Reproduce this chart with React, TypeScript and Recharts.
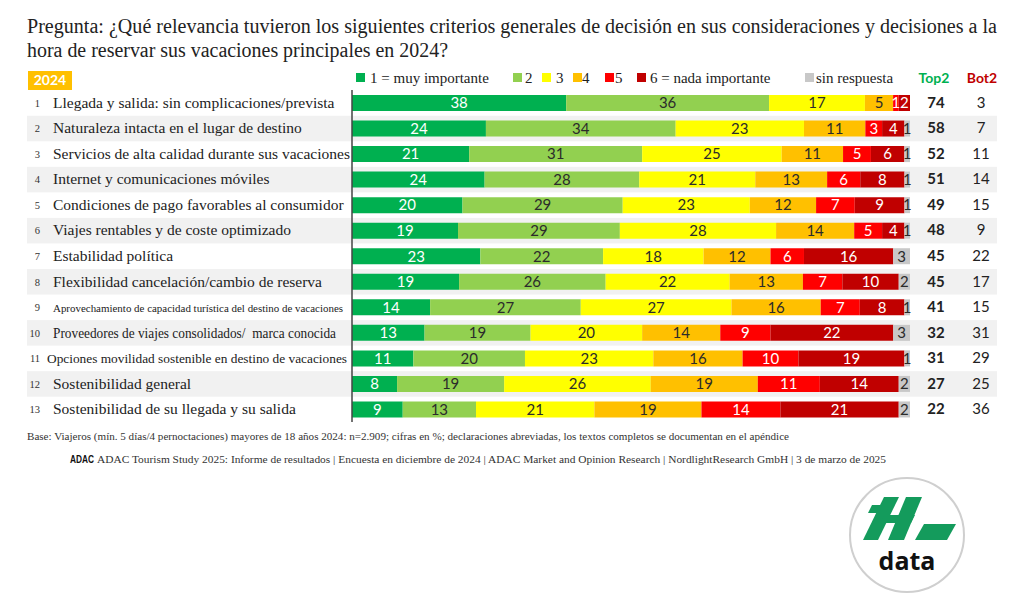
import React from 'react'
import { BarChart, Bar, XAxis, YAxis, LabelList } from 'recharts'

// rows, top to bottom
const rowLabels = [
  'Llegada y salida: sin complicaciones/prevista',
  'Naturaleza intacta en el lugar de destino',
  'Servicios de alta calidad durante sus vacaciones',
  'Internet y comunicaciones móviles',
  'Condiciones de pago favorables al consumidor',
  'Viajes rentables y de coste optimizado',
  'Estabilidad política',
  'Flexibilidad cancelación/cambio de reserva',
  'Aprovechamiento de capacidad turística del destino de vacaciones',
  'Proveedores de viajes consolidados/  marca conocida',
  'Opciones movilidad sostenible en destino de vacaciones',
  'Sostenibilidad general',
  'Sostenibilidad de su llegada y su salida',
]

const muyImportante = [38, 24, 21, 24, 20, 19, 23, 19, 14, 13, 11, 8, 9]
const dos = [36, 34, 31, 28, 29, 29, 22, 26, 27, 19, 20, 19, 13]
const tres = [17, 23, 25, 21, 23, 28, 18, 22, 27, 20, 23, 26, 21]
const cuatro = [5, 11, 11, 13, 12, 14, 12, 13, 16, 14, 16, 19, 19]
const cinco = [1, 3, 5, 6, 7, 5, 6, 7, 7, 9, 10, 11, 14]
const nadaImportante = [2, 4, 6, 8, 9, 4, 16, 10, 8, 22, 19, 14, 21]
const sinRespuesta = [0, 1, 1, 1, 1, 1, 3, 2, 1, 3, 1, 2, 2]
const top2 = [74, 58, 52, 51, 49, 48, 45, 45, 41, 32, 31, 27, 22]
const bot2 = [3, 7, 11, 14, 15, 9, 22, 17, 15, 31, 29, 25, 36]

const series = [
  { key: 's1', name: '1 = muy importante', values: muyImportante, color: '#00b050', text: '#ffffff' },
  { key: 's2', name: '2', values: dos, color: '#92d050', text: '#2b2b2b' },
  { key: 's3', name: '3', values: tres, color: '#ffff00', text: '#2b2b2b' },
  { key: 's4', name: '4', values: cuatro, color: '#ffc000', text: '#2b2b2b' },
  { key: 's5', name: '5', values: cinco, color: '#ff0000', text: '#ffffff' },
  { key: 's6', name: '6 = nada importante', values: nadaImportante, color: '#c00000', text: '#ffffff' },
  { key: 's7', name: 'sin respuesta', values: sinRespuesta, color: '#c8c8c8', text: '#2b2b2b' },
]

const data = rowLabels.map((label, i) => {
  const row: Record<string, string | number> = { label, idx: i }
  series.forEach((s) => { row[s.key] = s.values[i] })
  return row
})

// layout
const W = 1024
const CHART_H = 440
const M_TOP = 90
const M_BOTTOM = 18
const PLOT_LEFT = 352
const PLOT_RIGHT = 910
const BAR = 16
const BAND = (CHART_H - M_TOP - M_BOTTOM) / rowLabels.length
const SERIF = '"Liberation Serif", "DejaVu Serif", serif'
const SANS = 'Lato, "Open Sans", sans-serif'

const legendSquareX = [356, 513, 542, 573, 605, 637, 805]
const legendTextX = [370, 525, 556, 582, 615, 650, 816]

// a few labels were squeezed in the original slide
const labelTweaks: Record<number, { size?: number; len?: number; x?: number }> = {
  7: { size: 14.5, len: 269 },
  8: { size: 11, len: 290 },
  9: { size: 14, len: 283 },
  10: { x: 47, size: 13.5, len: 300 },
}

function Stripe(props: any) {
  const { y, height, index } = props
  if (index % 2 === 0) return <g key={`bg-${index}`} />
  const pad = (BAND - height) / 2
  return <rect key={`bg-${index}`} x={27} y={y - pad} width={970} height={BAND} fill="#f1f1f1" />
}

function LeftTick(props: any) {
  const { y, payload } = props
  const i = payload.index as number
  const t = labelTweaks[i] || {}
  return (
    <g>
      <text x={40} y={y} dy={4} textAnchor="end" fontFamily={SERIF} fontSize={10.5} fill="#333">{i + 1}</text>
      <text
        x={t.x ?? 53}
        y={y}
        dy={5}
        fontFamily={SERIF}
        fontSize={t.size ?? 15.5}
        fill="#222"
        style={{ whiteSpace: 'pre' }}
        {...(t.len ? { textLength: t.len, lengthAdjust: 'spacingAndGlyphs' } : {})}
      >
        {rowLabels[i]}
      </text>
    </g>
  )
}

function RightTick(props: any) {
  const { y, payload } = props
  const i = payload.index as number
  return (
    <g fontFamily={SANS} fontSize={15} fill="#222">
      <text x={936} y={y} dy={5} textAnchor="middle" fontWeight={700}>{top2[i]}</text>
      <text x={981} y={y} dy={5} textAnchor="middle">{bot2[i]}</text>
    </g>
  )
}

function Logo() {
  const g = '#149b5c'
  return (
    <g>
      <circle cx={907} cy={535} r={57} fill="#fff" stroke="#cfcfcf" strokeWidth={2} />
      <polygon points="884,497 899,497 878,540 863,540" fill={g} />
      <polygon points="872,505 890,505 886,513 868,513" fill={g} />
      <polygon points="884,515 915,515 911,523 880,523" fill={g} />
      <polygon points="906,497 922,497 904,540 888,540" fill={g} />
      <polygon points="924,524 956,524 947,540 915,540" fill={g} />
      <text x={907} y={570} textAnchor="middle" fontFamily='"Open Sans", sans-serif' fontWeight={700} fontSize={25} fill="#111">data</text>
    </g>
  )
}

function Decor() {
  return (
    <svg width={W} height={608} style={{ position: 'absolute', left: 0, top: 0 }}>
      <g fontFamily={SERIF} fill="#222" fontSize={20}>
        <text x={27} y={33} textLength={970} lengthAdjust="spacingAndGlyphs">
          Pregunta: ¿Qué relevancia tuvieron los siguientes criterios generales de decisión en sus consideraciones y decisiones a la
        </text>
        <text x={27} y={57} textLength={421} lengthAdjust="spacingAndGlyphs">
          hora de reservar sus vacaciones principales en 2024?
        </text>
      </g>

      <rect x={28} y={71} width={44} height={19} fill="#ffc000" />
      <text x={50} y={85} textAnchor="middle" fontFamily={SANS} fontWeight={700} fontSize={14} fill="#fff">2024</text>

      {series.map((s, i) => (
        <g key={s.key}>
          <rect x={legendSquareX[i]} y={73} width={9} height={9} fill={s.color} />
          <text x={legendTextX[i]} y={83} fontFamily={SERIF} fontSize={15} fill="#222">{s.name}</text>
        </g>
      ))}
      <text x={934} y={83} textAnchor="middle" fontFamily={SANS} fontWeight={700} fontSize={14} fill="#00b050">Top2</text>
      <text x={982} y={83} textAnchor="middle" fontFamily={SANS} fontWeight={700} fontSize={14} fill="#c00000">Bot2</text>

      <text x={27} y={440} fontFamily={SERIF} fontSize={10} fill="#333" textLength={762} lengthAdjust="spacingAndGlyphs">
        Base: Viajeros (mín. 5 días/4 pernoctaciones) mayores de 18 años 2024: n=2.909; cifras en %; declaraciones abreviadas, los textos completos se documentan en el apéndice
      </text>
      <text x={70} y={463} fontFamily='"Liberation Sans Narrow", "Liberation Sans", sans-serif' fontWeight={700} fontSize={10.5} fill="#111" textLength={24} lengthAdjust="spacingAndGlyphs">ADAC</text>
      <text x={97} y={463} fontFamily={SERIF} fontSize={10.5} fill="#333" textLength={789} lengthAdjust="spacingAndGlyphs">
        ADAC Tourism Study 2025: Informe de resultados | Encuesta en diciembre de 2024 | ADAC Market and Opinion Research | NordlightResearch GmbH | 3 de marzo de 2025
      </text>

      <Logo />
    </svg>
  )
}

export default function App() {
  return (
    <div style={{ position: 'absolute', left: 0, top: 0, width: W, height: 608, background: '#fff', overflow: 'hidden' }}>
      <Decor />
      <div style={{ position: 'absolute', left: 0, top: 0 }}>
        <BarChart
          width={W}
          height={CHART_H}
          data={data}
          layout="vertical"
          stackOffset="expand"
          barSize={BAR}
          margin={{ top: M_TOP, right: 0, bottom: M_BOTTOM, left: 0 }}
        >
          <XAxis type="number" hide domain={[0, 1]} />
          {series.map((s, i) => (
            <Bar
              key={s.key}
              dataKey={s.key}
              name={s.name}
              stackId="a"
              fill={s.color}
              isAnimationActive={false}
              background={i === 0 ? Stripe : undefined}
            >
              <LabelList
                dataKey={s.key}
                position="center"
                fill={s.text}
                fontFamily={SANS}
                fontSize={15}
                formatter={(v: any) => (v ? v : '')}
              />
            </Bar>
          ))}
          <YAxis
            type="category"
            dataKey="label"
            width={PLOT_LEFT}
            axisLine={{ stroke: '#444', strokeWidth: 1.5 }}
            tickLine={false}
            tick={<LeftTick />}
            interval={0}
          />
          <YAxis
            yAxisId="right"
            orientation="right"
            type="category"
            dataKey="label"
            width={W - PLOT_RIGHT}
            axisLine={false}
            tickLine={false}
            tick={<RightTick />}
            interval={0}
          />
        </BarChart>
      </div>
    </div>
  )
}
